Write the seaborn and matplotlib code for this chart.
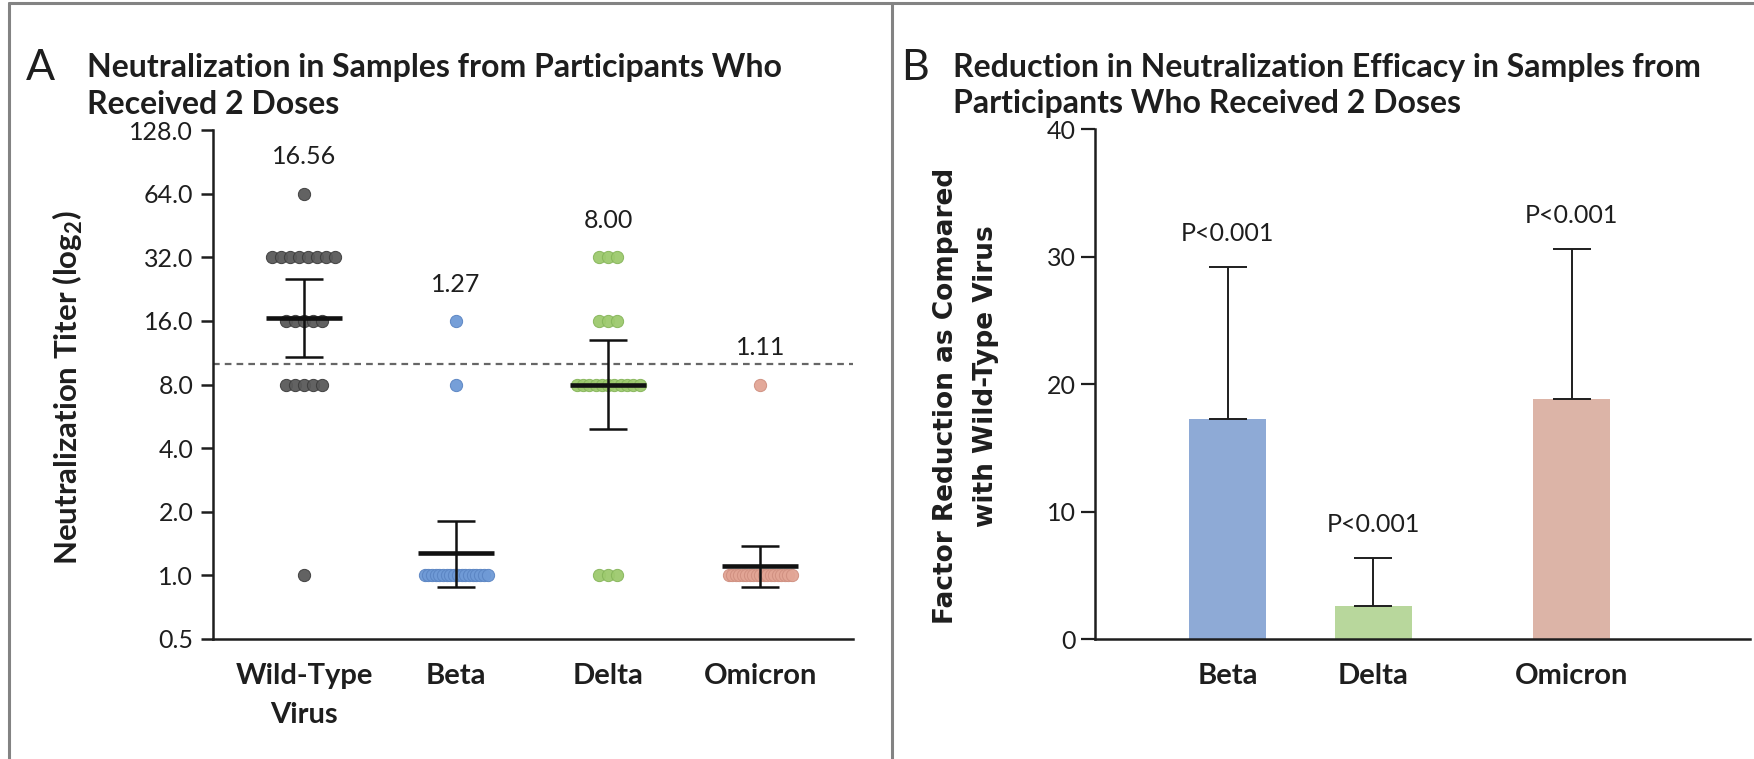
import numpy as np
import pandas as pd
import matplotlib
matplotlib.use("Agg")
import matplotlib.pyplot as plt
from matplotlib.lines import Line2D
from matplotlib import font_manager
import seaborn as sns

# ---------------- data ----------------
# Panel A: neutralization titers, 20 participants per virus (titer level -> number of samples)
variants = ["Wild-Type\nVirus", "Beta", "Delta", "Omicron"]
wildtype_titers = {64: 1, 32: 8, 16: 5, 8: 5, 1: 1}
beta_titers = {16: 1, 8: 1, 1: 18}
delta_titers = {32: 3, 16: 3, 8: 11, 1: 3}
omicron_titers = {8: 1, 1: 19}
titer_counts = [wildtype_titers, beta_titers, delta_titers, omicron_titers]

# geometric mean titers with 95% confidence limits
geo_means = [16.56, 1.27, 8.00, 1.11]
ci_lower = [10.8, 0.88, 4.9, 0.88]
ci_upper = [25.3, 1.80, 13.0, 1.37]
threshold = 10

y_ticks = [0.5, 1, 2, 4, 8, 16, 32, 64, 128]

# Panel B: factor reduction relative to wild-type virus
b_variants = ["Beta", "Delta", "Omicron"]
fold_reduction = [17.3, 2.6, 18.85]
fold_upper = [29.2, 6.4, 30.6]
p_labels = ["P<0.001", "P<0.001", "P<0.001"]

# ---------------- style ----------------
point_colors = ["#5a5a5a", "#6f9ad6", "#9dca6e", "#e2a595"]
point_edges = ["#3c3c3c", "#5a84c2", "#86b55a", "#cf8f80"]
bar_colors = ["#8eaad6", "#b8d79c", "#dcb4a7"]
ink = "#1e1e1e"

sns.set_theme(style="white")
plt.rcParams["font.family"] = ["Lato", "DejaVu Sans"]
plt.rcParams["mathtext.fontset"] = "custom"
plt.rcParams["mathtext.rm"] = "Lato"
plt.rcParams["mathtext.bf"] = "Lato:bold"
plt.rcParams["text.color"] = ink
plt.rcParams["axes.labelcolor"] = ink
plt.rcParams["xtick.color"] = ink
plt.rcParams["ytick.color"] = ink

# condensed face for the panel titles when the system has one
installed = {f.name for f in font_manager.fontManager.ttflist}
if "Liberation Sans Narrow" in installed:
    title_font = dict(family=["Liberation Sans Narrow", "Lato"], fontsize=24)
else:
    title_font = dict(family=["Lato", "DejaVu Sans"], fontsize=23)

W, H = 1754, 759
fig = plt.figure(figsize=(W / 100, H / 100), dpi=100)
fig.patch.set_facecolor("white")


def fx(px):
    return px / W


def fy(py):
    return 1 - py / H


axA = fig.add_axes([fx(212.7), fy(639), fx(853) - fx(212.7), fy(130) - fy(639)])
axB = fig.add_axes([fx(1095), fy(639.3), fx(1750) - fx(1095), fy(129.3) - fy(639.3)])

# ---------------- panel A ----------------
px_per_cat = 152.0
step = 9.0 / px_per_cat       # horizontal spacing between neighbouring dots
max_span = 63.0 / px_per_cat  # widest spread of one row of dots

rows = []
for i, (name, counts) in enumerate(zip(variants, titer_counts)):
    for level, n in counts.items():
        span = min(step * (n - 1), max_span)
        offsets = np.linspace(-span / 2, span / 2, n) if n > 1 else [0.0]
        for o in offsets:
            rows.append({"variant": name, "pos": i + o, "titer": level})
pts = pd.DataFrame(rows)

for i, name in enumerate(variants):
    sub = pts[pts["variant"] == name]
    sns.scatterplot(data=sub, x="pos", y="titer", color=point_colors[i],
                    edgecolor=point_edges[i], linewidth=0.7, s=78, alpha=0.95,
                    legend=False, ax=axA, zorder=2)

axA.set_yscale("log", base=2)
axA.set_ylim(0.5, 128)
axA.set_xlim(-0.6, 3.61)
axA.minorticks_off()

xs = np.arange(len(variants))
axA.axhline(threshold, color="#666666", lw=1.6, ls=(0, (3, 2.3)), zorder=1)
axA.hlines(geo_means, xs - 0.25, xs + 0.25, color="#111111", lw=3.3, zorder=4)
axA.vlines(xs, ci_lower, ci_upper, color="#111111", lw=1.8, zorder=4)
axA.hlines(ci_lower, xs - 0.125, xs + 0.125, color="#111111", lw=1.8, zorder=4)
axA.hlines(ci_upper, xs - 0.125, xs + 0.125, color="#111111", lw=1.8, zorder=4)

for i, (g, counts) in enumerate(zip(geo_means, titer_counts)):
    axA.annotate(f"{g:.2f}", (i, max(counts)), xytext=(0, 26.5),
                 textcoords="offset points", ha="center", va="center", fontsize=18)

axA.set_yticks(y_ticks)
axA.set_yticklabels([f"{v:.1f}" for v in y_ticks], fontsize=18)
axA.set_xticks(xs)
axA.set_xticklabels(variants, fontsize=21, fontweight="bold", linespacing=1.62)
axA.tick_params(axis="y", length=9, width=1.8, pad=5, direction="out", left=True)
axA.tick_params(axis="x", length=0, pad=17)
axA.set_xlabel("")
axA.set_ylabel("")
for side in ["top", "right"]:
    axA.spines[side].set_visible(False)
for side in ["left", "bottom"]:
    axA.spines[side].set_linewidth(1.8)
    axA.spines[side].set_color(ink)

# ---------------- panel B ----------------
b_positions = [0.0, 0.948, 2.24]
bars = pd.DataFrame({"pos": b_positions, "reduction": fold_reduction, "variant": b_variants})
sns.barplot(data=bars, x="pos", y="reduction", hue="variant", palette=bar_colors,
            native_scale=True, width=0.53, errorbar=None, legend=False,
            saturation=1, linewidth=0, ax=axB, zorder=2)

up = np.array(fold_upper) - np.array(fold_reduction)
axB.errorbar(b_positions, fold_reduction, yerr=[np.zeros(3), up], fmt="none",
             ecolor=ink, elinewidth=1.4, capsize=14, capthick=1.4, zorder=3)
for x, top, lab in zip(b_positions, fold_upper, p_labels):
    axB.annotate(lab, (x, top), xytext=(0, 24), textcoords="offset points",
                 ha="center", va="center", fontsize=18)

axB.set_ylim(0, 40)
axB.set_xlim(-0.864, 3.40)
axB.set_yticks([0, 10, 20, 30, 40])
axB.set_yticklabels(["0", "10", "20", "30", "40"], fontsize=18)
axB.set_xticks(b_positions)
axB.set_xticklabels(b_variants, fontsize=21, fontweight="bold")
axB.tick_params(axis="y", length=10, width=1.6, pad=4, direction="out", left=True)
axB.tick_params(axis="x", length=0, pad=17)
axB.set_xlabel("")
axB.set_ylabel("")
for side in ["top", "right"]:
    axB.spines[side].set_visible(False)
for side in ["left", "bottom"]:
    axB.spines[side].set_linewidth(1.8)
    axB.spines[side].set_color(ink)

# ---------------- titles and axis titles ----------------
fig.text(fx(40), fy(68), "A", fontsize=31, ha="center", va="center")
fig.text(fx(87), fy(67), "Neutralization in Samples from Participants Who",
         fontweight="bold", ha="left", va="center", **title_font)
fig.text(fx(87), fy(104), "Received 2 Doses",
         fontweight="bold", ha="left", va="center", **title_font)

fig.text(fx(915), fy(68), "B", fontsize=31, ha="center", va="center")
fig.text(fx(953), fy(67), "Reduction in Neutralization Efficacy in Samples from",
         fontweight="bold", ha="left", va="center", **title_font)
fig.text(fx(953), fy(104), "Participants Who Received 2 Doses",
         fontweight="bold", ha="left", va="center", **title_font)

fig.text(fx(68), fy(388), r"Neutralization Titer (log$_\mathbf{2}$)",
         fontsize=22.5, fontweight="bold", rotation=90, ha="center", va="center")
fig.text(fx(946), fy(396), "Factor Reduction as Compared",
         family=["DejaVu Sans"], fontsize=19, fontweight="bold",
         rotation=90, ha="center", va="center")
fig.text(fx(986), fy(376), "with Wild-Type Virus",
         family=["DejaVu Sans"], fontsize=19, fontweight="bold",
         rotation=90, ha="center", va="center")

# ---------------- panel frame ----------------
frame = "#838383"
fig.add_artist(Line2D([fx(9), fx(9)], [0, fy(3)], color=frame, lw=2.2))
fig.add_artist(Line2D([fx(9), 1], [fy(3), fy(3)], color=frame, lw=2.2))
fig.add_artist(Line2D([fx(892), fx(892)], [0, fy(3)], color=frame, lw=2.2))

fig.savefig("out.png", dpi=100, facecolor="white")
